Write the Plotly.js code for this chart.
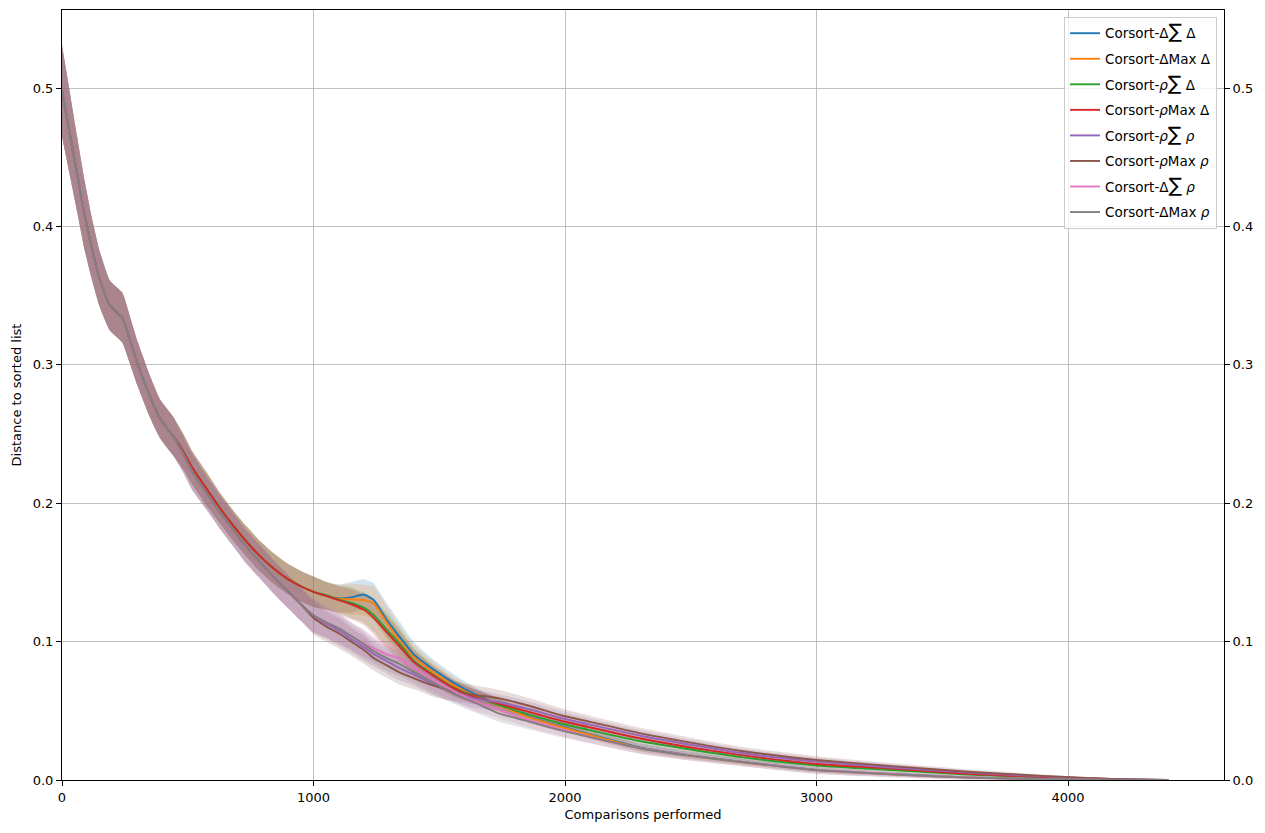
<!DOCTYPE html>
<html>
<head>
<meta charset="utf-8">
<script src="https://cdn.plot.ly/plotly-3.0.1.min.js"></script>
<style>html,body{margin:0;padding:0;background:#fff;}#chart{width:1265px;height:833px;}</style>
</head>
<body>
<div id="chart"></div>
<script>
// Comparisons performed (shared x grid)
const comparisons = [0, 30, 60, 90, 120, 150, 190, 240, 270, 300, 350, 390, 440,
  480, 520, 580, 630, 680, 730, 780, 840, 900, 950, 1000,
  1050, 1100, 1150, 1200, 1240, 1290, 1340, 1400, 1480, 1560, 1640, 1740, 1860, 1980,
  2100, 2300, 2500, 2700, 3000, 3300, 3600, 3900, 4200, 4400];

const seriesNames = [
  "Corsort-Δ<span style=\"font-size:20px\">∑</span> Δ",
  "Corsort-ΔMax Δ",
  "Corsort-<i>ρ</i><span style=\"font-size:20px\">∑</span> Δ",
  "Corsort-<i>ρ</i>Max Δ",
  "Corsort-<i>ρ</i><span style=\"font-size:20px\">∑</span> <i>ρ</i>",
  "Corsort-<i>ρ</i>Max <i>ρ</i>",
  "Corsort-Δ<span style=\"font-size:20px\">∑</span> <i>ρ</i>",
  "Corsort-ΔMax <i>ρ</i>"
];
const seriesColors = ["31,119,180", "255,127,14", "44,160,44", "214,39,40", "148,103,189", "140,86,75", "227,119,194", "127,127,127"];

const deltaSumDelta = [0.498, 0.468, 0.438, 0.408, 0.383, 0.362, 0.343, 0.334, 0.318, 0.301, 0.277, 0.261, 0.249,
  0.238, 0.225, 0.209, 0.196, 0.184, 0.173, 0.163, 0.153, 0.145, 0.140, 0.136,
  0.133, 0.1313, 0.132, 0.134, 0.130, 0.116, 0.104, 0.0905, 0.0795, 0.070, 0.062, 0.054, 0.0455, 0.039,
  0.033, 0.0235, 0.0178, 0.0133, 0.0073, 0.0043, 0.0019, 0.0007, 0.0001, 0];
const deltaMaxDelta = [0.498, 0.468, 0.438, 0.408, 0.383, 0.362, 0.343, 0.334, 0.318, 0.301, 0.277, 0.261, 0.249,
  0.238, 0.225, 0.209, 0.196, 0.184, 0.173, 0.163, 0.153, 0.145, 0.140, 0.136,
  0.133, 0.131, 0.1305, 0.130, 0.1275, 0.114, 0.101, 0.0885, 0.0775, 0.068, 0.061, 0.0535, 0.045, 0.0385,
  0.0325, 0.023, 0.0175, 0.013, 0.0071, 0.0042, 0.0018, 0.0007, 0.0001, 0];
const rhoSumDelta = [0.498, 0.468, 0.438, 0.408, 0.383, 0.362, 0.343, 0.334, 0.318, 0.301, 0.277, 0.261, 0.249,
  0.238, 0.225, 0.209, 0.196, 0.184, 0.173, 0.163, 0.153, 0.145, 0.140, 0.136,
  0.1335, 0.1305, 0.128, 0.1245, 0.119, 0.109, 0.099, 0.086, 0.0755, 0.0665, 0.0605, 0.054, 0.047, 0.041,
  0.036, 0.028, 0.022, 0.0165, 0.0105, 0.0072, 0.004, 0.0018, 0.0004, 0];
const rhoMaxDelta = [0.498, 0.468, 0.438, 0.408, 0.383, 0.362, 0.343, 0.334, 0.318, 0.301, 0.277, 0.261, 0.249,
  0.238, 0.225, 0.209, 0.196, 0.184, 0.173, 0.163, 0.153, 0.145, 0.140, 0.136,
  0.133, 0.130, 0.127, 0.123, 0.117, 0.107, 0.097, 0.085, 0.075, 0.066, 0.060, 0.055, 0.049, 0.043,
  0.038, 0.030, 0.0235, 0.018, 0.0116, 0.0082, 0.0045, 0.0022, 0.0005, 0];
const rhoSumRho = [0.498, 0.468, 0.438, 0.408, 0.383, 0.362, 0.343, 0.334, 0.318, 0.301, 0.277, 0.261, 0.249,
  0.236, 0.222, 0.206, 0.193, 0.181, 0.169, 0.159, 0.147, 0.136, 0.127, 0.118,
  0.113, 0.108, 0.102, 0.096, 0.091, 0.086, 0.081, 0.076, 0.069, 0.063, 0.059, 0.056, 0.051, 0.045,
  0.040, 0.032, 0.0255, 0.0195, 0.0133, 0.009, 0.0053, 0.0026, 0.0005, 0];
const rhoMaxRho = [0.498, 0.468, 0.438, 0.408, 0.383, 0.362, 0.343, 0.334, 0.318, 0.301, 0.277, 0.261, 0.249,
  0.236, 0.222, 0.206, 0.193, 0.181, 0.169, 0.159, 0.147, 0.136, 0.127, 0.117,
  0.111, 0.106, 0.100, 0.094, 0.088, 0.083, 0.078, 0.0735, 0.068, 0.064, 0.0615, 0.059, 0.0535, 0.047,
  0.042, 0.0337, 0.027, 0.021, 0.0145, 0.010, 0.006, 0.003, 0.0006, 0];
const deltaSumRho = [0.498, 0.468, 0.438, 0.408, 0.383, 0.362, 0.343, 0.334, 0.318, 0.301, 0.277, 0.261, 0.249,
  0.236, 0.222, 0.206, 0.193, 0.181, 0.169, 0.159, 0.147, 0.136, 0.127, 0.119,
  0.114, 0.110, 0.104, 0.099, 0.095, 0.091, 0.088, 0.081, 0.072, 0.064, 0.057, 0.0505, 0.043, 0.037,
  0.031, 0.023, 0.0176, 0.0131, 0.0072, 0.0042, 0.0018, 0.0007, 0.0001, 0];
const deltaMaxRho = [0.498, 0.468, 0.438, 0.408, 0.383, 0.362, 0.343, 0.334, 0.318, 0.301, 0.277, 0.261, 0.249,
  0.236, 0.222, 0.206, 0.193, 0.181, 0.169, 0.159, 0.147, 0.136, 0.127, 0.119,
  0.114, 0.1096, 0.104, 0.098, 0.093, 0.088, 0.084, 0.078, 0.070, 0.062, 0.056, 0.048, 0.042, 0.036,
  0.031, 0.0228, 0.0174, 0.013, 0.0071, 0.0041, 0.0017, 0.0006, 0.0001, 0];

// Half-width of the confidence band
const bandDelta = [0.033, 0.030, 0.027, 0.025, 0.022, 0.020, 0.018, 0.018, 0.017, 0.016, 0.015, 0.014, 0.014,
  0.013, 0.012, 0.012, 0.011, 0.011, 0.011, 0.011, 0.011, 0.011, 0.011, 0.011,
  0.010, 0.010, 0.011, 0.011, 0.012, 0.012, 0.011, 0.009, 0.007, 0.006, 0.005, 0.0045, 0.004, 0.0035,
  0.003, 0.0027, 0.0024, 0.002, 0.0017, 0.0014, 0.001, 0.0006, 0.0002, 0];
const bandRho = [0.033, 0.030, 0.027, 0.025, 0.022, 0.020, 0.018, 0.018, 0.017, 0.016, 0.015, 0.014, 0.014,
  0.013, 0.013, 0.012, 0.012, 0.012, 0.012, 0.012, 0.012, 0.012, 0.012, 0.012,
  0.011, 0.011, 0.010, 0.010, 0.009, 0.009, 0.009, 0.008, 0.008, 0.007, 0.007, 0.006, 0.0055, 0.005,
  0.0045, 0.004, 0.0035, 0.003, 0.0027, 0.0022, 0.0017, 0.001, 0.0003, 0];

const seriesValues = [deltaSumDelta, deltaMaxDelta, rhoSumDelta, rhoMaxDelta, rhoSumRho, rhoMaxRho, deltaSumRho, deltaMaxRho];
const seriesBands = [bandDelta, bandDelta, bandDelta, bandDelta, bandRho, bandRho, bandRho, bandRho];

const xTicks = [0, 1000, 2000, 3000, 4000];
const yTicks = [0, 0.1, 0.2, 0.3, 0.4, 0.5];

const traces = [];
const lineShape = {shape: 'spline', smoothing: 0.5};
seriesValues.forEach((vals, i) => {
  const lo = vals.map((v, k) => v - seriesBands[i][k]);
  const hi = vals.map((v, k) => v + seriesBands[i][k]);
  traces.push({x: comparisons, y: lo, mode: 'lines', line: Object.assign({width: 0, color: 'rgba(0,0,0,0)'}, lineShape),
    showlegend: false, hoverinfo: 'skip'});
  traces.push({x: comparisons, y: hi, mode: 'lines', line: Object.assign({width: 0, color: 'rgba(0,0,0,0)'}, lineShape),
    fill: 'tonexty', fillcolor: 'rgba(' + seriesColors[i] + ',0.2)', showlegend: false, hoverinfo: 'skip'});
});
seriesValues.forEach((vals, i) => {
  traces.push({x: comparisons, y: vals, mode: 'lines', name: seriesNames[i], legendgroup: 'g' + i,
    line: Object.assign({width: 1.9, color: 'rgb(' + seriesColors[i] + ')'}, lineShape)});
});
traces.push({x: [], y: [], yaxis: 'y2', showlegend: false, hoverinfo: 'skip'});

const yr = [0, 0.5564];
const font = {family: 'DejaVu Sans, sans-serif', size: 13, color: '#000'};
const layout = {
  width: 1265, height: 833,
  margin: {l: 62, r: 41, t: 10, b: 53},
  paper_bgcolor: '#fff', plot_bgcolor: '#fff',
  font: font,
  showlegend: true,
  legend: {x: 0.994, y: 0.991, xanchor: 'right', yanchor: 'top', bgcolor: 'rgba(255,255,255,0.8)',
    bordercolor: '#cccccc', borderwidth: 1, font: {family: 'DejaVu Sans, sans-serif', size: 13.5, color: '#000'},
    tracegroupgap: 5, traceorder: 'grouped', itemwidth: 30},
  xaxis: {range: [0, 4620], tickvals: xTicks, ticktext: xTicks.map(String), showgrid: true, gridcolor: '#b0b0b0', gridwidth: 0.8,
    zeroline: false, showline: true, linecolor: '#000', linewidth: 1, mirror: true,
    ticks: 'outside', ticklen: 5, tickcolor: '#000', tickfont: font,
    title: {text: 'Comparisons performed', font: font, standoff: 6}},
  yaxis: {range: yr, tickvals: yTicks, tickformat: '.1f', showgrid: true, gridcolor: '#b0b0b0', gridwidth: 0.8,
    zeroline: false, showline: true, linecolor: '#000', linewidth: 1, mirror: true,
    ticks: 'outside', ticklen: 5, tickcolor: '#000', tickfont: font,
    title: {text: 'Distance to sorted list', font: font, standoff: 8}},
  yaxis2: {range: yr, tickvals: yTicks, tickformat: '.1f', overlaying: 'y', side: 'right', showgrid: false,
    zeroline: false, showline: false, ticks: 'outside', ticklen: 5, tickcolor: '#000', tickfont: font}
};
Plotly.newPlot('chart', traces, layout, {displayModeBar: false, staticPlot: true});
</script>
</body>
</html>
